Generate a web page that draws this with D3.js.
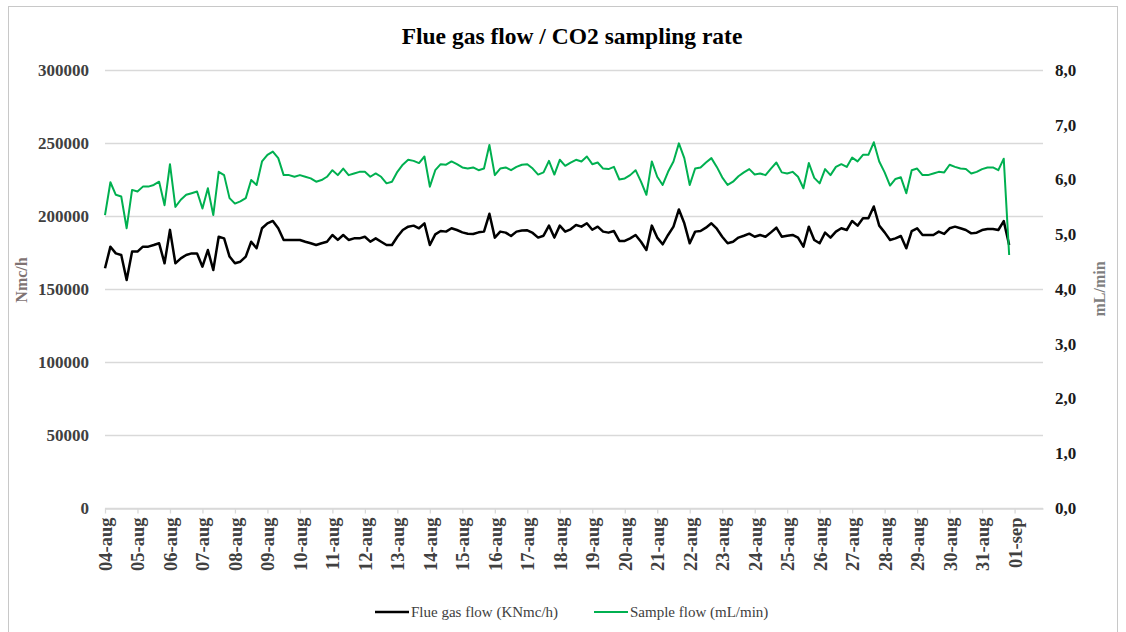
<!DOCTYPE html>
<html>
<head>
<meta charset="utf-8">
<script src="https://cdn.jsdelivr.net/npm/d3@7"></script>
<style>
body { margin: 0; background: #fff; }
svg { display: block; }
</style>
</head>
<body>
<div id="chartDiv"></div>
<script>
//-- DATA --\\
var startDay = new Date(2021, 7, 4);   // 04-aug, first reading
var stepHours = 4;                      // one reading every 4 hours

// Flue gas flow, Nmc/h (left axis)
var flueGas = [
  164200, 179000, 174400, 173300, 156200, 175600, 175600, 179000, 179000, 180100,
  181300, 167600, 190500, 167600, 171000, 173300, 174400, 174400, 165300, 176700,
  163000, 185800, 184700, 172200, 167600, 168700, 172200, 182400, 177900, 191600,
  195000, 196600, 191600, 183600, 183600, 183600, 183600, 182400, 181300, 180100,
  181300, 182400, 187000, 183600, 187000, 183600, 184700, 184700, 185800, 182400,
  184700, 182400, 180100, 180100, 185800, 190400, 192700, 193400, 191600, 195000,
  180100, 187400, 189700, 189300, 191600, 190400, 188800, 187900, 187700, 188800,
  189300, 201500, 185200, 189300, 188600, 186300, 189300, 190000, 190200, 188400,
  185200, 186500, 193400, 185200, 193400, 189300, 190900, 193800, 192700, 195000,
  190600, 192700, 189300, 188600, 189700, 182900, 182900, 184700, 187000, 182400,
  176700, 193400, 185200, 180600, 187000, 192700, 204500, 195000, 181300, 189300,
  189700, 192000, 195000, 191300, 185800, 181300, 182400, 185200, 186500, 187900,
  185800, 187000, 185800, 188800, 192000, 185800, 186500, 187000, 185200, 179000,
  192700, 183600, 181300, 188600, 185200, 189300, 191600, 190400, 196600, 193400,
  198400, 198400, 206500, 193400, 188800, 183600, 184700, 186300, 177900, 189700,
  191600, 187000, 187000, 187000, 189300, 187700, 191600, 192700, 191600, 190400,
  188100, 188600, 190400, 191100, 191100, 190400, 196500, 180100
];

// Sample flow, mL/min (right axis)
var sampleFlow = [
  5.35, 5.95, 5.72, 5.69, 5.11, 5.81, 5.78, 5.87, 5.87, 5.90,
  5.96, 5.53, 6.28, 5.50, 5.63, 5.72, 5.75, 5.78, 5.47, 5.84,
  5.35, 6.14, 6.08, 5.66, 5.56, 5.60, 5.66, 5.99, 5.90, 6.33,
  6.45, 6.51, 6.39, 6.08, 6.08, 6.05, 6.08, 6.05, 6.02, 5.96,
  5.99, 6.05, 6.17, 6.08, 6.20, 6.08, 6.11, 6.14, 6.14, 6.05,
  6.11, 6.05, 5.93, 5.96, 6.14, 6.27, 6.36, 6.34, 6.30, 6.42,
  5.87, 6.17, 6.28, 6.27, 6.33, 6.28, 6.22, 6.20, 6.22, 6.17,
  6.20, 6.63, 6.08, 6.20, 6.22, 6.17, 6.23, 6.27, 6.28, 6.20,
  6.09, 6.13, 6.34, 6.09, 6.36, 6.25, 6.31, 6.36, 6.33, 6.42,
  6.28, 6.31, 6.20, 6.19, 6.23, 6.00, 6.02, 6.08, 6.17, 5.96,
  5.72, 6.33, 6.05, 5.90, 6.14, 6.33, 6.66, 6.39, 5.90, 6.20,
  6.22, 6.31, 6.39, 6.23, 6.04, 5.90, 5.96, 6.06, 6.13, 6.19,
  6.09, 6.11, 6.08, 6.20, 6.31, 6.13, 6.11, 6.14, 6.05, 5.84,
  6.30, 6.03, 5.93, 6.19, 6.08, 6.23, 6.28, 6.23, 6.40, 6.33,
  6.45, 6.45, 6.68, 6.33, 6.13, 5.89, 6.01, 6.04, 5.75, 6.17,
  6.20, 6.08, 6.08, 6.11, 6.14, 6.13, 6.27, 6.23, 6.20, 6.19,
  6.11, 6.14, 6.19, 6.22, 6.22, 6.17, 6.38, 4.62
];

var leftTicks = [0, 50000, 100000, 150000, 200000, 250000, 300000];
var rightTicks = [0, 1, 2, 3, 4, 5, 6, 7, 8];
var dateLabels = ["04-aug", "05-aug", "06-aug", "07-aug", "08-aug", "09-aug", "10-aug",
  "11-aug", "12-aug", "13-aug", "14-aug", "15-aug", "16-aug", "17-aug", "18-aug",
  "19-aug", "20-aug", "21-aug", "22-aug", "23-aug", "24-aug", "25-aug", "26-aug",
  "27-aug", "28-aug", "29-aug", "30-aug", "31-aug", "01-sep"];
var seriesNames = ["Flue gas flow (KNmc/h)", "Sample flow (mL/min)"];

//-- CONSTANTS --\\
var width = 1126;
var height = 632;
var plotLeft = 105, plotRight = 1043, plotTop = 70, plotBottom = 508;
var serif = "'Liberation Serif', 'Times New Roman', serif";
var gridCol = "#d9d9d9";
var blackCol = "#000000";
var greenCol = "#00b050";

//-- scales --\\
var timeAt = function (i) { return d3.timeHour.offset(startDay, i * stepHours); };

var x = d3.scaleTime()
    .domain([startDay, d3.timeHour.offset(startDay, 28 * 24 + 21)])
    .range([plotLeft, plotRight]);

var yLeft = d3.scaleLinear().domain([0, 300000]).range([plotBottom, plotTop]);
var yRight = d3.scaleLinear().domain([0, 8]).range([plotBottom, plotTop]);

var svg = d3.select("#chartDiv").append("svg")
    .attr("width", width)
    .attr("height", height);

// outer frame
svg.append("rect")
    .attr("x", 8.5).attr("y", 6.5)
    .attr("width", 1109).attr("height", 640)
    .attr("fill", "none")
    .attr("stroke", "#c8c8c8");

// title
svg.append("text")
    .attr("x", 572).attr("y", 44)
    .attr("text-anchor", "middle")
    .style("font-family", serif)
    .style("font-size", "23.5px")
    .style("font-weight", "bold")
    .attr("fill", "#000")
    .text("Flue gas flow / CO2 sampling rate");

// horizontal grid
svg.append("g").selectAll("line")
    .data(leftTicks)
    .enter().append("line")
    .attr("x1", plotLeft).attr("x2", plotRight)
    .attr("y1", function (d) { return Math.round(yLeft(d)) + 0.5; })
    .attr("y2", function (d) { return Math.round(yLeft(d)) + 0.5; })
    .attr("stroke", gridCol)
    .attr("stroke-width", 1.3);

// left axis
var leftAxis = svg.append("g")
    .attr("transform", "translate(" + plotLeft + ",0)")
    .call(d3.axisLeft(yLeft).tickValues(leftTicks).tickSize(0).tickPadding(16).tickFormat(d3.format("d")));
leftAxis.select(".domain").remove();
leftAxis.selectAll("text")
    .style("font-family", serif)
    .style("font-size", "17px")
    .style("font-weight", "bold")
    .attr("fill", "#404040");

// right axis
var rightAxis = svg.append("g")
    .attr("transform", "translate(" + plotRight + ",0)")
    .call(d3.axisRight(yRight).tickValues(rightTicks).tickSize(0).tickPadding(12)
        .tickFormat(function (d) { return d3.format(".1f")(d).replace(".", ","); }));
rightAxis.select(".domain").remove();
rightAxis.selectAll("text")
    .style("font-family", serif)
    .style("font-size", "17px")
    .style("font-weight", "bold")
    .attr("fill", "#1a1a1a");

// bottom axis
var tickDates = dateLabels.map(function (d, i) { return d3.timeDay.offset(startDay, i); });
var bottomAxis = svg.append("g")
    .attr("transform", "translate(0," + (plotBottom + 0.5) + ")")
    .call(d3.axisBottom(x).tickValues(tickDates).tickSize(5).tickSizeOuter(0)
        .tickFormat(function (d, i) { return dateLabels[i]; }));
bottomAxis.select(".domain").attr("stroke", gridCol).attr("stroke-width", 1.3);
bottomAxis.selectAll(".tick line").attr("stroke", gridCol).attr("stroke-width", 1.3);
bottomAxis.selectAll("text")
    .attr("transform", "rotate(-90)")
    .attr("x", -9).attr("y", 0).attr("dy", "0.35em")
    .attr("text-anchor", "end")
    .style("font-family", serif)
    .style("font-size", "18.5px")
    .style("font-weight", "bold")
    .attr("fill", "#404040");

// axis titles
svg.append("text")
    .attr("transform", "translate(27,280) rotate(-90)")
    .attr("text-anchor", "middle")
    .style("font-family", serif)
    .style("font-size", "16px")
    .style("font-weight", "bold")
    .attr("fill", "#7f7373")
    .text("Nmc/h");

svg.append("text")
    .attr("transform", "translate(1105,289) rotate(-90)")
    .attr("text-anchor", "middle")
    .style("font-family", serif)
    .style("font-size", "16px")
    .style("font-weight", "bold")
    .attr("fill", "#7f7f7f")
    .text("mL/min");

//-- lines --\\
var flueLine = d3.line()
    .x(function (d, i) { return x(timeAt(i)); })
    .y(function (d) { return yLeft(d); });

var sampleLine = d3.line()
    .x(function (d, i) { return x(timeAt(i)); })
    .y(function (d) { return yRight(d); });

svg.append("path")
    .datum(flueGas)
    .attr("d", flueLine)
    .attr("fill", "none")
    .attr("stroke", blackCol)
    .attr("stroke-width", 2.5)
    .attr("stroke-linejoin", "round");

svg.append("path")
    .datum(sampleFlow)
    .attr("d", sampleLine)
    .attr("fill", "none")
    .attr("stroke", greenCol)
    .attr("stroke-width", 2)
    .attr("stroke-linejoin", "round");

//-- legend --\\
var legendX = [375, 594];
var legendCols = [blackCol, greenCol];
var legend = svg.append("g").selectAll("g")
    .data(seriesNames)
    .enter().append("g")
    .attr("transform", function (d, i) { return "translate(" + legendX[i] + ",612)"; });

legend.append("line")
    .attr("x1", 0).attr("x2", 34)
    .attr("stroke", function (d, i) { return legendCols[i]; })
    .attr("stroke-width", function (d, i) { return i === 0 ? 2.5 : 2; });

legend.append("text")
    .attr("x", 36).attr("y", 5)
    .style("font-family", serif)
    .style("font-size", "15px")
    .attr("fill", "#404040")
    .text(function (d) { return d; });
</script>
</body>
</html>
